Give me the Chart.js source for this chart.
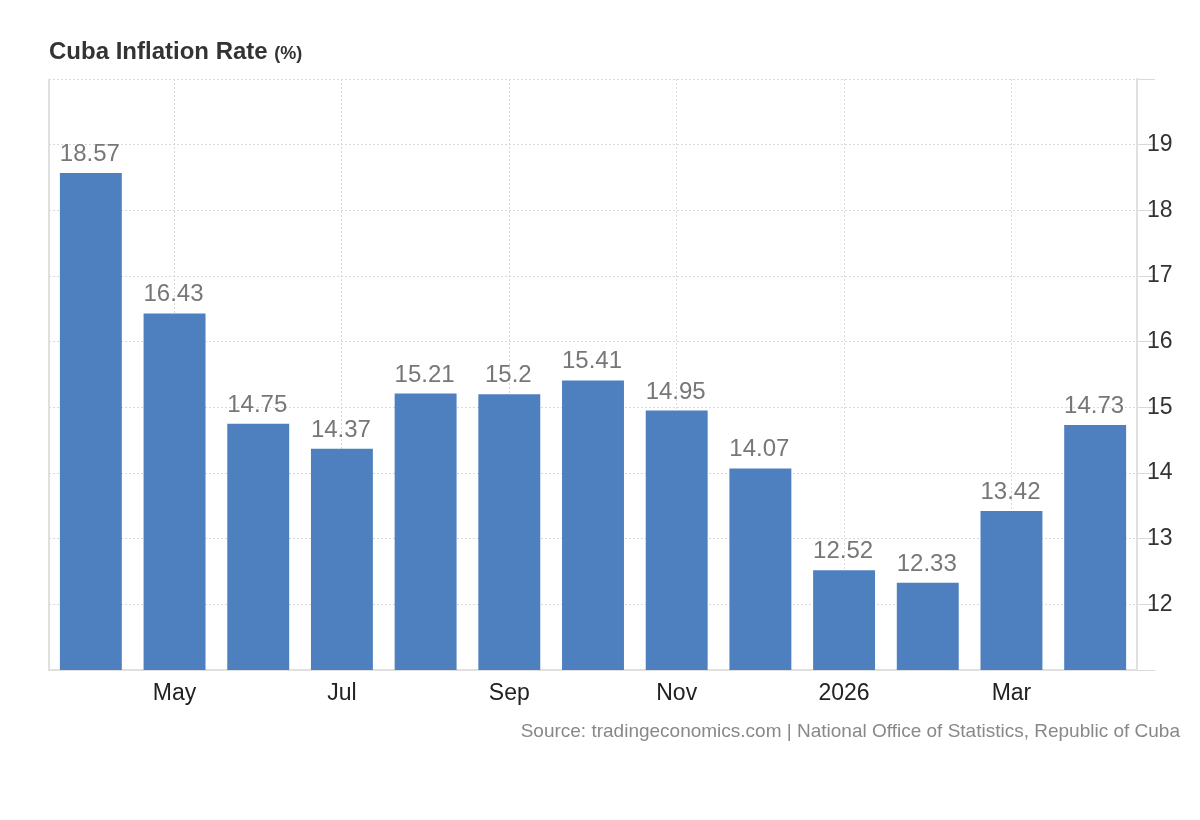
<!DOCTYPE html>
<html>
<head>
<meta charset="utf-8">
<script src="https://cdn.jsdelivr.net/npm/chart.js@4.4.0/dist/chart.umd.min.js"></script>
<style>
  html, body { margin: 0; padding: 0; background: #fff; }
  body { width: 1200px; height: 820px; position: relative; overflow: hidden; font-family: "Liberation Sans", Arial, sans-serif; }
  #title { position: absolute; left: 49px; top: 37px; font-size: 24px; font-weight: bold; color: #333; }
  #title span { font-size: 18px; }
  #source { position: absolute; right: 20px; top: 720px; font-size: 19px; color: #888; }
  #wrap { position: absolute; left: 0; top: 0; width: 1200px; height: 820px; }
</style>
</head>
<body>
<div id="wrap"><canvas id="chart" width="1200" height="820"></canvas></div>
<div id="title">Cuba Inflation Rate <span>(%)</span></div>
<div id="source">Source: tradingeconomics.com | National Office of Statistics, Republic of Cuba</div>
<script>
// months Apr 2025 - Apr 2026
const months = ["Apr", "May", "Jun", "Jul", "Aug", "Sep", "Oct", "Nov", "Dec", "2026", "Feb", "Mar", "Apr"];
const shownLabels = ["May", "Jul", "Sep", "Nov", "2026", "Mar"];
const inflation = [18.57, 16.43, 14.75, 14.37, 15.21, 15.2, 15.41, 14.95, 14.07, 12.52, 12.33, 13.42, 14.73];

// values above the bars
const valueLabels = {
  id: "valueLabels",
  afterDatasetsDraw(chart) {
    const ctx = chart.ctx;
    const meta = chart.getDatasetMeta(0);
    ctx.save();
    ctx.font = "24px 'Liberation Sans', Arial, sans-serif";
    ctx.fillStyle = "#777";
    ctx.textAlign = "center";
    ctx.textBaseline = "alphabetic";
    meta.data.forEach((bar, i) => {
      ctx.fillText(String(inflation[i]), bar.x - 1, bar.y - 12);
    });
    ctx.restore();
  }
};

// left frame line
const leftBorder = {
  id: "leftBorder",
  beforeDatasetsDraw(chart) {
    const { ctx, chartArea } = chart;
    ctx.save();
    ctx.strokeStyle = "#e0e0e0";
    ctx.lineWidth = 2;
    ctx.beginPath();
    ctx.moveTo(chartArea.left, chartArea.top);
    ctx.lineTo(chartArea.left, chartArea.bottom);
    ctx.stroke();
    ctx.restore();
  }
};

const ctx = document.getElementById("chart").getContext("2d");
new Chart(ctx, {
  type: "bar",
  data: {
    labels: months,
    datasets: [{
      data: inflation,
      backgroundColor: "#4e80bf",
      barPercentage: 0.74,
      categoryPercentage: 1.0
    }]
  },
  options: {
    responsive: false,
    animation: false,
    layout: { padding: { left: 49, top: 79, right: 0, bottom: 100 } },
    plugins: {
      legend: { display: false },
      tooltip: { enabled: false }
    },
    scales: {
      x: {
        afterFit: s => { s.height = 50; },
        grid: {
          offset: false,
          drawTicks: false,
          color: c => (c.index % 2 === 1 ? "#d9d9d9" : "rgba(0,0,0,0)")
        },
        border: { display: true, color: "#e0e0e0", width: 2, dash: [2, 2] },
        ticks: {
          autoSkip: false,
          maxRotation: 0,
          padding: 10,
          color: "#222",
          font: { family: "'Liberation Sans', Arial, sans-serif", size: 23 },
          callback: (v, i) => (shownLabels.includes(months[i]) && i % 2 === 1 ? months[i] : "")
        }
      },
      y: {
        position: "right",
        min: 11,
        max: 20,
        afterFit: s => { s.width = 63; },
        grid: { color: "#d9d9d9", tickLength: 18 },
        border: { display: true, color: "#e0e0e0", width: 2, dash: [2, 2] },
        ticks: {
          stepSize: 1,
          padding: -8,
          color: "#333",
          font: { family: "'Liberation Sans', Arial, sans-serif", size: 23 },
          callback: v => (v === 11 || v === 20 ? "" : v)
        }
      }
    }
  },
  plugins: [valueLabels, leftBorder]
});
</script>
</body>
</html>
